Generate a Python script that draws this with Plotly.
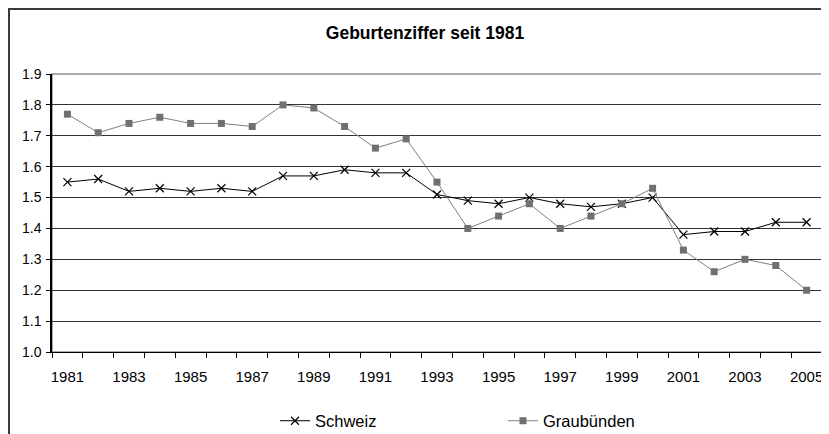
import plotly.graph_objects as go

years = list(range(1981, 2006))
schweiz = [1.55, 1.56, 1.52, 1.53, 1.52, 1.53, 1.52, 1.57, 1.57, 1.59, 1.58, 1.58, 1.51,
           1.49, 1.48, 1.50, 1.48, 1.47, 1.48, 1.50, 1.38, 1.39, 1.39, 1.42, 1.42]
graubuenden = [1.77, 1.71, 1.74, 1.76, 1.74, 1.74, 1.73, 1.80, 1.79, 1.73, 1.66, 1.69, 1.55,
               1.40, 1.44, 1.48, 1.40, 1.44, 1.48, 1.53, 1.33, 1.26, 1.30, 1.28, 1.20]
x_tick_labels = [str(y) if (y - 1981) % 2 == 0 else "" for y in years]
title_text = "Geburtenziffer seit 1981"

# page has an 8px body margin; figure coordinates are page coordinates minus 8
OFF = 8
W, H = 829 - OFF, 434 - OFF
L, R, T, B = 52 - OFF, 822 - OFF, 74 - OFF, 352 - OFF
pw, ph = R - L, B - T

def px2x(p):
    return (p - L) / pw

def px2y(p):
    return (B - p) / ph

fig = go.Figure()
fig.add_trace(go.Scatter(
    x=years, y=schweiz, name="Schweiz", mode="lines+markers",
    line=dict(color="#000000", width=1),
    marker=dict(symbol="x-thin", size=8, line=dict(color="#000000", width=1.2), color="#000000"),
    legend="legend",
))
fig.add_trace(go.Scatter(
    x=years, y=graubuenden, name="Graubünden", mode="lines+markers",
    line=dict(color="#808080", width=1),
    marker=dict(symbol="square", size=7, color="#707070"),
    legend="legend2",
))

font = "Liberation Sans, Arial, sans-serif"

fig.update_layout(
    width=W, height=H,
    margin=dict(l=L, r=W - R, t=T, b=H - B),
    paper_bgcolor="white", plot_bgcolor="white",
    font=dict(family=font, color="#000000"),
    title=dict(text="<b>" + title_text + "</b>", font=dict(size=17.5, family=font),
               xref="container", yref="container", x=(425 - OFF) / W, y=1 - (33 - OFF) / H,
               xanchor="center", yanchor="middle"),
    xaxis=dict(
        range=[1980.5, 2005.5], tickmode="array", tickvals=years, ticktext=x_tick_labels,
        ticks="", showgrid=False, showline=True, linecolor="#000000", linewidth=1,
        tickfont=dict(size=15), ticklabelstandoff=11,
        minor=dict(ticks="outside", tickmode="linear", tick0=1980.5, dtick=1,
                   ticklen=5, tickcolor="#000000", tickwidth=1, showgrid=False),
        zeroline=False,
    ),
    yaxis=dict(
        range=[1.0, 1.9], tickmode="linear", tick0=1.0, dtick=0.1, tickformat=".1f",
        ticks="outside", ticklen=4, tickcolor="#000000",
        showgrid=True, gridcolor="#333333", gridwidth=1,
        showline=True, linecolor="#000000", linewidth=1.5,
        tickfont=dict(size=14), ticklabelstandoff=2, zeroline=False,
    ),
    legend=dict(orientation="h", xref="container", yref="container",
                x=(275 - OFF) / W, y=1 - (421 - OFF) / H, xanchor="left", yanchor="middle",
                font=dict(size=16.5), bgcolor="rgba(0,0,0,0)"),
    legend2=dict(orientation="h", xref="container", yref="container",
                 x=(503 - OFF) / W, y=1 - (421 - OFF) / H, xanchor="left", yanchor="middle",
                 font=dict(size=16.5), bgcolor="rgba(0,0,0,0)"),
    showlegend=True,
    shapes=[
        dict(type="rect", xref="paper", yref="paper", x0=0, y0=0, x1=1, y1=1,
             line=dict(color="#909090", width=1.5), layer="below"),
        dict(type="rect", xref="paper", yref="paper", x0=px2x(1), y0=px2y(H + 40),
             x1=px2x(W + 40), y1=px2y(1), line=dict(color="#3a3a3a", width=2), layer="below"),
    ],
)

fig.write_html("out.html")
